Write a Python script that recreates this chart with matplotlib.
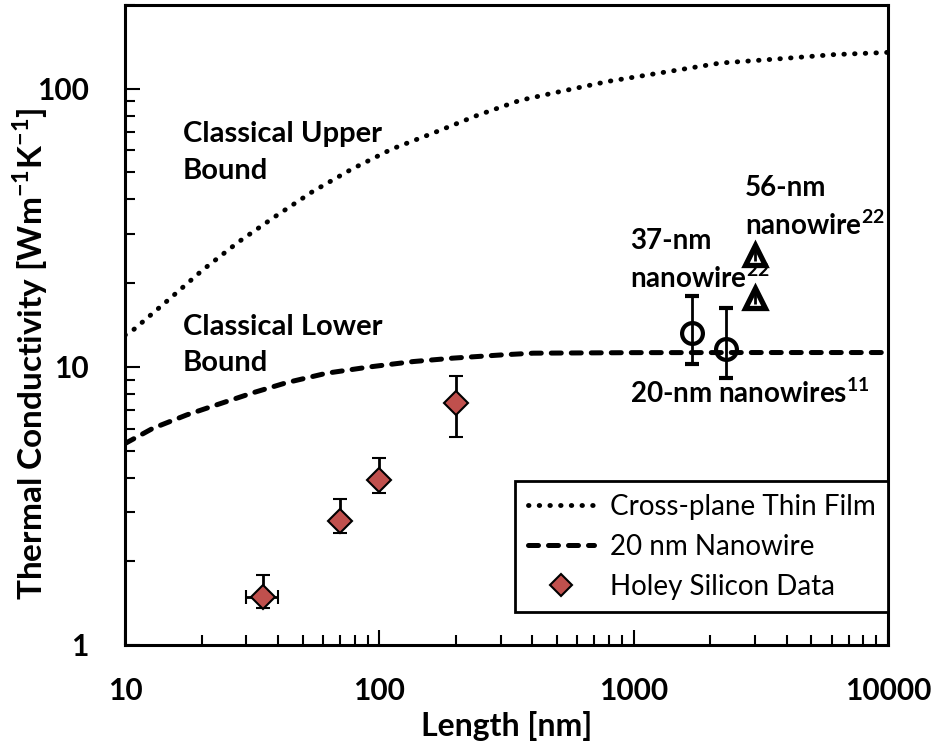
import matplotlib
matplotlib.use("Agg")
import matplotlib.pyplot as plt
from matplotlib.lines import Line2D
from matplotlib.ticker import LogLocator, NullFormatter, FixedLocator, FixedFormatter

plt.rcParams['font.family'] = ['Lato', 'DejaVu Sans']
plt.rcParams['mathtext.fontset'] = 'custom'
plt.rcParams['mathtext.rm'] = 'Lato:weight=bold'
plt.rcParams['mathtext.bf'] = 'Lato:weight=bold'

# ---- data ----
upper_x = [10, 10.8, 14.8, 20.2, 27.9, 38.9, 54.7, 77.9, 112, 163, 241, 357, 483, 795, 1310, 2190, 3650, 6100, 10000]
upper_y = [13.0, 13.6, 17.4, 22.3, 28.1, 34.7, 42.7, 51.4, 60.7, 69.3, 80.0, 90.8, 96.5, 106.3, 114.5, 123.7, 127.9, 132.6, 135.1]

lower_x = [10, 12.9, 17.5, 22.9, 32.0, 43.3, 62.1, 91.9, 136, 195, 307, 403, 1000, 3000, 10000]
lower_y = [5.3, 6.02, 6.72, 7.30, 8.08, 8.78, 9.49, 10.0, 10.45, 10.75, 11.05, 11.2, 11.25, 11.26, 11.26]

holey_x = [35, 70, 100, 200]
holey_y = [1.49, 2.78, 3.92, 7.44]
holey_yerr_low = [0.13, 0.26, 0.41, 1.85]
holey_yerr_high = [0.29, 0.56, 0.77, 1.84]
holey_xerr = [5, 0, 0, 0]

nw20_x = [1700, 2300]
nw20_y = [13.2, 11.6]
nw20_yerr_low = [2.95, 2.5]
nw20_yerr_high = [4.85, 4.7]

nw_tri_x = [3000, 3000]
nw_tri_y = [25.3, 17.7]
nw_tri_yerr = [1.2, 0.9]

x_ticks = [10, 100, 1000, 10000]
x_ticklabels = ['10', '100', '1000', '10000']
y_ticks = [1, 10, 100]
y_ticklabels = ['1', '10', '100']

series_labels = ['Cross-plane Thin Film', '20 nm Nanowire', 'Holey Silicon Data']
diamond_color = '#C0504D'

# ---- figure ----
fig = plt.figure(figsize=(9.4, 7.49), dpi=100)
ax = fig.add_axes([125/940, 1-645/749, 763/940, 640/749])
ax.set_xscale('log')
ax.set_yscale('log')
ax.set_xlim(10, 10000)
ax.set_ylim(1, 200)

dot_style = (0, (0.1, 2.1))
dash_style = (0, (2.0, 2.0))
ax.plot(upper_x, upper_y, linestyle=dot_style, color='black', lw=3.5,
        dash_capstyle='round', zorder=3)
ax.plot(lower_x, lower_y, linestyle=dash_style, color='black', lw=3.6,
        dash_capstyle='round', zorder=3)

ax.errorbar(holey_x, holey_y, yerr=[holey_yerr_low, holey_yerr_high],
            xerr=holey_xerr, fmt='D', color='black', mfc=diamond_color, mec='black',
            mew=1.5, ms=12, elinewidth=2, capsize=5, capthick=2, zorder=5)

ax.errorbar(nw20_x, nw20_y, yerr=[nw20_yerr_low, nw20_yerr_high], fmt='o',
            color='black', mfc='none', mec='black', mew=3, ms=15,
            elinewidth=2, capsize=5, capthick=2, zorder=5)

ax.plot(nw_tri_x, nw_tri_y, '^', mfc='white', mec='black', mew=3.8, ms=14,
        linestyle='none', zorder=5)
ax.errorbar(nw_tri_x, nw_tri_y, yerr=nw_tri_yerr, fmt='none', ecolor='black',
            elinewidth=2, capsize=0, zorder=6)

# ---- axes styling ----
for s in ax.spines.values():
    s.set_linewidth(2.2)
ax.xaxis.set_major_locator(FixedLocator(x_ticks))
ax.xaxis.set_major_formatter(FixedFormatter(x_ticklabels))
ax.yaxis.set_major_locator(FixedLocator(y_ticks))
ax.yaxis.set_major_formatter(FixedFormatter(y_ticklabels))
ax.xaxis.set_minor_locator(LogLocator(base=10, subs=range(2, 10)))
ax.yaxis.set_minor_locator(LogLocator(base=10, subs=range(2, 10)))
ax.xaxis.set_minor_formatter(NullFormatter())
ax.yaxis.set_minor_formatter(NullFormatter())
ax.tick_params(which='both', direction='in', top=False, right=False, width=1.5)
ax.tick_params(which='major', length=11)
ax.tick_params(which='minor', length=7)
ax.tick_params(axis='x', which='major', pad=23, labelsize=21.5)
ax.tick_params(axis='y', which='major', pad=26, labelsize=21.5)
for lab in ax.get_xticklabels() + ax.get_yticklabels():
    lab.set_fontweight('bold')

ax.set_xlabel('Length [nm]', fontsize=23, fontweight='bold', va='top')
ax.set_ylabel(r'Thermal Conductivity [Wm$^{\mathbf{-1}}$K$^{\mathbf{-1}}$]',
              fontsize=24, fontweight='bold')
ax.xaxis.set_label_coords(0.5, (645-711)/640)
ax.yaxis.set_label_coords((50-125)/763, 1-(354-5)/640)

# ---- annotations ----
tkw = dict(transform=ax.transAxes, fontsize=21, fontweight='bold',
           ha='left', va='center', linespacing=1.5)
ax.text(0.076, 1-(152.5-5)/640, 'Classical Upper\nBound', **tkw)
ax.text(0.076, 1-(345-5)/640, 'Classical Lower\nBound', **tkw)
tkw['fontsize'] = 20
tkw['linespacing'] = 1.35
ax.text(0.662, 1-(260.5-5)/640, '37-nm\nnanowire$^{\\mathbf{22}}$', **tkw)
ax.text(0.8126, 1-(207.5-5)/640, '56-nm\nnanowire$^{\\mathbf{22}}$', **tkw)
ax.text(0.662, 1-(393-5)/640, '20-nm nanowires$^{\\mathbf{11}}$', **tkw)

handles = [
    Line2D([], [], linestyle=dot_style, color='black', lw=3.5, dash_capstyle='round'),
    Line2D([], [], linestyle=dash_style, color='black', lw=3.6, dash_capstyle='round'),
    Line2D([], [], linestyle='none', marker='D', mfc=diamond_color, mec='black', mew=1.5, ms=11),
]
leg = ax.legend(handles, series_labels, loc='lower right',
                bbox_to_anchor=(1.0, (645-612)/640),
                fontsize=20, frameon=True, fancybox=False, edgecolor='black',
                borderaxespad=0, handlelength=2.4, handletextpad=0.55,
                labelspacing=0.5, borderpad=0.45, framealpha=1)
leg.get_frame().set_linewidth(2)

fig.savefig('out.png', dpi=100)
